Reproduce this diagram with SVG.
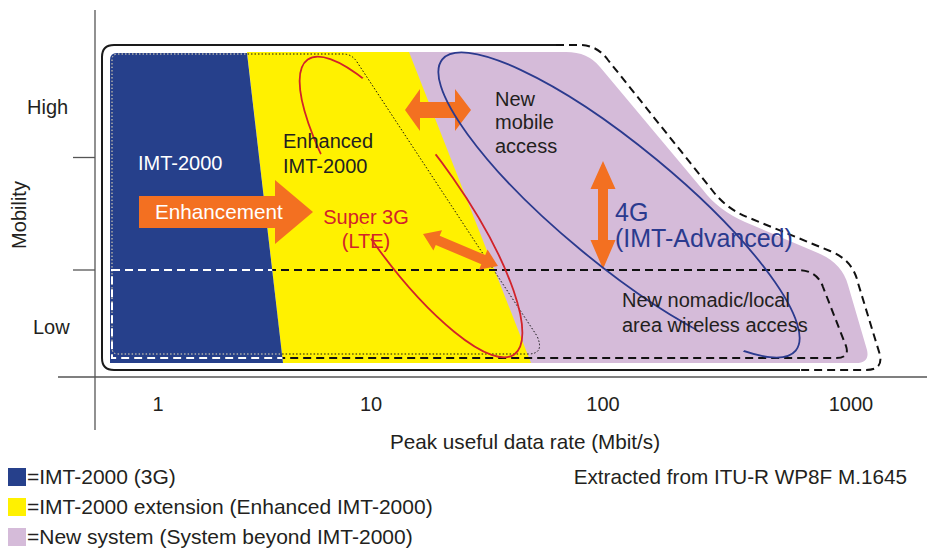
<svg xmlns="http://www.w3.org/2000/svg" width="927" height="549" viewBox="0 0 927 549">
<style>
text{font-family:"Liberation Sans",Arial,sans-serif;font-size:20px;fill:#231f20}
.w{fill:#fff}
.red{fill:#d2232a}
.bl{fill:#2b3a8e;font-size:25px}
.big{font-size:20.7px}
.leg{font-size:21px}
.axis{stroke:#555;stroke-width:1.3;fill:none}
.dash{fill:none;stroke:#111;stroke-width:2;stroke-dasharray:8 5}
.dot{fill:none;stroke:#111;stroke-width:1;stroke-dasharray:1.5 2}
.orange{fill:#f37021}
</style>
<defs>
<clipPath id="blueClip"><path d="M110,60 Q110,53 117,53 H247 L283,363 H110 Z"/></clipPath>
<mask id="redMask"><rect x="0" y="0" width="927" height="549" fill="#fff"/><rect x="278" y="130" width="104" height="47" fill="#000"/><rect x="316" y="203" width="98" height="56" fill="#000"/></mask>
<mask id="blueMask"><rect x="0" y="0" width="927" height="549" fill="#fff"/><rect x="612" y="222" width="196" height="30" fill="#000"/><rect x="600" y="283" width="222" height="57" fill="#000"/></mask>
</defs>

<g id="axes">
<line class="axis" x1="95" y1="10" x2="95" y2="430"/>
<line class="axis" x1="58" y1="377" x2="927" y2="377"/>
<line class="axis" x1="73" y1="157.5" x2="95" y2="157.5"/>
<line class="axis" x1="73" y1="270" x2="95" y2="270"/>
</g>

<g id="regions">
<path id="purple" d="M400,52 H566 Q588,52 600,67 L703,190 Q718,210 745,222 L818,253 Q842,263 848,285 L867,350 Q870,363 856,363 H400 Z" fill="#d5bbd9"/>
<path id="yellow" d="M247,52 H409 L531,363 H283 Z" fill="#fff100"/>
<path id="blue" d="M110,60 Q110,53 117,53 H247 L283,363 H110 Z" fill="#26408b"/>
</g>

<g id="outlines">
<path d="M556,45 H114 Q102,45 102,57 V358 Q102,370 114,370 H800" fill="none" stroke="#1a1a1a" stroke-width="2"/>
<path class="dash" d="M556,45 H580 Q597,45 608,60 L712,190 Q727,210 752,219 L830,251 Q853,260 858,283 L880,355 Q883,370 866,370 H800"/>
<path class="dash" d="M112,270 H797 Q817,270 823,287 L846,346 Q850,358 836,358 H112 Z"/>
<path class="dot" d="M118,54 H343 Q352,54 357,62 L537,336 Q545,354 528,354 H118 Q112,354 112,348 V60 Q112,54 118,54 Z"/>
<g clip-path="url(#blueClip)">
<path class="dash" style="stroke:#fff" d="M112,270 H797 Q817,270 823,287 L846,346 Q850,358 836,358 H112 Z"/>
<path class="dot" style="stroke:#fff" d="M118,54 H343 Q352,54 357,62 L537,336 Q545,354 528,354 H118 Q112,354 112,348 V60 Q112,54 118,54 Z"/>
</g>
</g>

<g id="lte-ellipse">
<ellipse cx="411" cy="207" rx="180" ry="51" transform="rotate(55 411 207)" fill="none" stroke="#d2232a" stroke-width="1.8" mask="url(#redMask)"/>
</g>

<g id="connectors">
<polygon id="enhancement-arrow" class="orange" points="139,196 275,196 275,180 313,212 275,244 275,228 139,228"/>
<polygon id="h-arrow" class="orange" points="405,110 420,89 420,102 455,102 455,89 471,110 455,131 455,118 420,118 420,131"/>
<polygon id="v-arrow" class="orange" points="603,161 615.5,189 608,189 608,240 615.5,240 603,269 590.5,240 598,240 598,189 590.5,189"/>
<polygon id="d-arrow" class="orange" transform="translate(423,234) rotate(23.1)" points="0,0 16,-11 16,-5 65.5,-5 65.5,-11 81.5,0 65.5,11 65.5,5 16,5 16,11"/>
</g>

<g id="4g-ellipse">
<ellipse cx="619" cy="205" rx="229" ry="59" transform="rotate(39.5 619 205)" fill="none" stroke="#2b3a8e" stroke-width="1.8" mask="url(#blueMask)"/>
</g>

<g id="labels">
<text class="w" x="138" y="170">IMT-2000</text>
<text class="w big" x="155" y="219">Enhancement</text>
<text x="283" y="148">Enhanced</text>
<text x="283" y="173">IMT-2000</text>
<text class="red" x="366" y="224" text-anchor="middle">Super 3G</text>
<text class="red" x="366" y="248" text-anchor="middle">(LTE)</text>
<text x="495" y="106">New</text>
<text x="495" y="129">mobile</text>
<text x="495" y="153">access</text>
<text class="bl" x="615" y="221">4G</text>
<text class="bl" x="615" y="247">(IMT-Advanced)</text>
<text x="622" y="307">New nomadic/local</text>
<text x="622" y="332">area wireless access</text>
</g>

<g id="axis-labels">
<text x="27" y="114">High</text>
<text x="33" y="334">Low</text>
<text x="26" y="215" text-anchor="middle" transform="rotate(-90 26 215)">Mobility</text>
<text x="158" y="411" text-anchor="middle">1</text>
<text x="371" y="411" text-anchor="middle">10</text>
<text x="603" y="411" text-anchor="middle">100</text>
<text x="851" y="411" text-anchor="middle">1000</text>
<text class="big" x="525" y="449" text-anchor="middle">Peak useful data rate (Mbit/s)</text>
<text class="big" x="907" y="484" text-anchor="end">Extracted from ITU-R WP8F M.1645</text>
</g>

<g id="legend">
<rect x="8" y="468" width="18" height="18" fill="#26408b"/>
<rect x="8" y="498" width="18" height="18" fill="#fff100"/>
<rect x="8" y="528" width="18" height="18" fill="#d5bbd9"/>
<text class="leg" x="27" y="484">=IMT-2000 (3G)</text>
<text class="leg" x="27" y="514">=IMT-2000 extension (Enhanced IMT-2000)</text>
<text class="leg" x="27" y="544">=New system (System beyond IMT-2000)</text>
</g>
</svg>
